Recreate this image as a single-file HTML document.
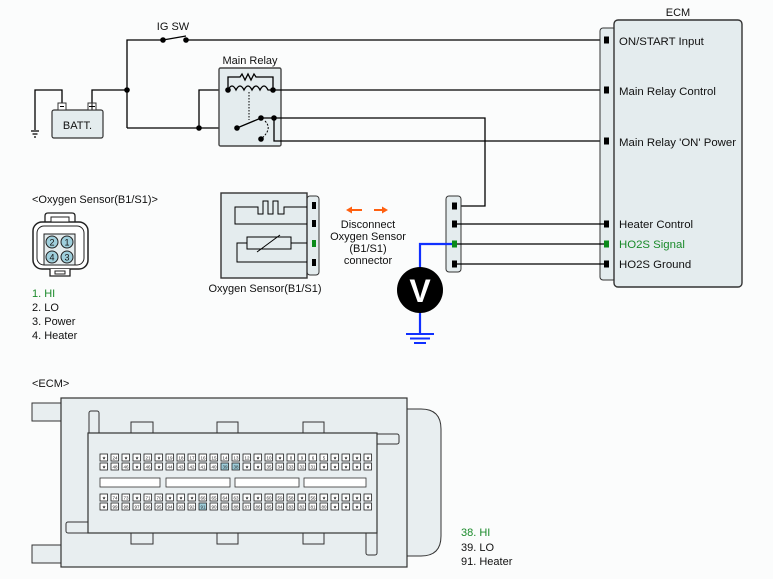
<!DOCTYPE html>
<html><head><meta charset="utf-8"><style>
html,body{margin:0;padding:0;background:#fbfcfc;}
svg{display:block;font-family:"Liberation Sans",sans-serif;}
.w{stroke:#000;stroke-width:1.3;fill:none}
.t{font-size:11px;fill:#111}
.e{font-size:11.4px;fill:#111}
.p{fill:#fff;stroke:#222;stroke-width:.8}
.ph{fill:#9fcfdc;stroke:#222;stroke-width:.8}
.n{font-size:4.5px;fill:#222;text-anchor:middle}
</style></head><body>
<svg width="773" height="579" viewBox="0 0 773 579" xmlns="http://www.w3.org/2000/svg">
<rect width="773" height="579" fill="#fbfcfc"/>
<text x="173" y="30" class="t" text-anchor="middle">IG SW</text>
<path class="w" d="M127,128 V40 H163 M163,40 L186,36 M186,40 H604"/>
<circle cx="163" cy="40" r="2.8"/><circle cx="186" cy="40" r="2.8"/>
<path class="w" d="M92,103 V90 H127 M62,103 V90 H35 V130"/>
<path class="w" d="M31,131 H39 M32.5,134 H37.5 M34,137 H36" stroke-width="1"/>
<circle cx="127" cy="90" r="2.8"/>
<path class="w" d="M127,128 H237 M199,128 V90 H228"/>
<circle cx="199" cy="128" r="2.8"/>
<rect x="52" y="110" width="51" height="28" rx="2" fill="#e4ecee" stroke="#333" stroke-width="1.2"/>
<text x="77.5" y="129" class="t" text-anchor="middle">BATT.</text>
<rect x="58" y="103" width="8" height="7" fill="#fff" stroke="#333"/>
<path d="M60,106.5H64" stroke="#000"/>
<rect x="88" y="103" width="8" height="7" fill="#fff" stroke="#333"/>
<path d="M89,106.5H95M92,103.5V109.5" stroke="#000"/>
<text x="250" y="64" class="t" text-anchor="middle">Main Relay</text>
<rect x="219" y="68" width="62" height="78" rx="1.5" fill="#e4ecee" stroke="#444" stroke-width="1.4"/>
<path class="w" d="M228,90 V77 H240 l2,-3 l3,6 l3,-6 l3,6 l3,-6 l2,3 H273 V90" stroke-width="1"/>
<path class="w" d="M228,90 q4,-8 8,0 q4,-8 8,0 q4,-8 8,0 q4,-8 8,0 q4,-8 8,0 H273" stroke-width="1"/>
<path d="M249,92 V120" stroke="#000" stroke-width="1" stroke-dasharray="1.5,1.5"/>
<path class="w" d="M237,128 L261,118 M261,118 H274"/>
<path d="M265,121 q8,8 -4,18" stroke="#000" fill="none" stroke-width="1" stroke-dasharray="2,1.5"/>
<circle cx="228" cy="90" r="2.8"/><circle cx="273" cy="90" r="2.8"/>
<circle cx="237" cy="128" r="2.8"/><circle cx="261" cy="118" r="2.8"/><circle cx="274" cy="118" r="2.8"/><circle cx="261" cy="139" r="2.8"/>
<path class="w" d="M273,90 H604 M274,118 H485 V206 H457 M274,118 V141 H604"/>
<text x="678" y="16" class="t" text-anchor="middle">ECM</text>
<rect x="600" y="28" width="16" height="252" rx="3" fill="#e4ecee" stroke="#333" stroke-width="1"/>
<rect x="614" y="20" width="128" height="267" rx="4" fill="#e4ecee" stroke="#333" stroke-width="1.4"/>
<g fill="#000"><rect x="604" y="36.5" width="5" height="7"/><rect x="604" y="86.5" width="5" height="7"/><rect x="604" y="137.5" width="5" height="7"/><rect x="604" y="220.5" width="5" height="7"/><rect x="604" y="240.5" width="5" height="7" fill="#0a8a1a"/><rect x="604" y="260.5" width="5" height="7"/></g>
<text x="619" y="45" class="e">ON/START Input</text>
<text x="619" y="95" class="e">Main Relay Control</text>
<text x="619" y="146" class="e">Main Relay 'ON' Power</text>
<text x="619" y="228" class="e">Heater Control</text>
<text x="619" y="248" class="e" style="fill:#1a8a2a">HO2S  Signal</text>
<text x="619" y="268" class="e">HO2S  Ground</text>
<rect x="446" y="196" width="15" height="76" rx="3" fill="#e4ecee" stroke="#333" stroke-width="1"/>
<path class="w" d="M457,224 H604 M457,244 H604 M457,264 H604"/>
<g><rect x="452" y="202.5" width="5" height="7"/><rect x="452" y="220.5" width="5" height="7"/><rect x="452" y="240.5" width="5" height="7" fill="#0a8a1a"/><rect x="452" y="260.5" width="5" height="7"/></g>
<path d="M452,244 H420 V268 M420,312 V334" stroke="#1030ff" stroke-width="2.2" fill="none"/>
<path d="M406,334 H434 M410,338.5 H430 M414,343 H426" stroke="#1030ff" stroke-width="2"/>
<circle cx="420" cy="290" r="23" fill="#000"/>
<text x="420" y="302" text-anchor="middle" font-size="32" font-weight="bold" fill="#fff">V</text>
<rect x="307" y="196" width="12" height="79" rx="3" fill="#e4ecee" stroke="#333" stroke-width="1"/>
<rect x="221" y="193" width="86" height="85" fill="#e4ecee" stroke="#333" stroke-width="1.4"/>
<path d="M307,207 H284 V214 H278 V201 H273 V214 H268 V201 H263 V214 H258 V207 H235 V224 H307 M307,243 H291 M247,243 H237 V262 H307 M257,252 L280,235" fill="none" stroke="#000" stroke-width="1"/>
<rect x="247" y="237" width="44" height="12" fill="none" stroke="#000" stroke-width="1"/>
<g><rect x="312" y="202" width="4" height="7"/><rect x="312" y="220" width="4" height="7"/><rect x="312" y="240" width="4" height="7" fill="#0a8a1a"/><rect x="312" y="259" width="4" height="7"/></g>
<text x="265" y="292" class="t" text-anchor="middle">Oxygen Sensor(B1/S1)</text>
<path d="M350,210 H362 M374,210 H384" stroke="#ff6010" stroke-width="2"/>
<path d="M346,210 l6,-3.5 v7z M388,210 l-6,-3.5 v7z" fill="#ff6010"/>
<g class="t" text-anchor="middle"><text x="368" y="228">Disconnect</text><text x="368" y="240">Oxygen Sensor</text><text x="368" y="252">(B1/S1)</text><text x="368" y="264">connector</text></g>
<text x="32" y="203" class="t">&lt;Oxygen Sensor(B1/S1)&gt;</text>
<!-- connector icon -->
<path d="M45,223 v-7 q0,-3 3,-3 h24 q3,0 3,3 v7" fill="#fff" stroke="#222" stroke-width="1.3"/>
<rect x="33" y="222" width="55" height="47" rx="9" fill="#fff" stroke="#222" stroke-width="1.5"/>
<rect x="37" y="226" width="47" height="39" rx="7" fill="none" stroke="#222" stroke-width="1"/>
<rect x="51" y="217" width="18" height="5" fill="#fff" stroke="#222" stroke-width="1"/>
<path d="M50,269 v7 h20 v-7" fill="#fff" stroke="#222" stroke-width="1.3"/>
<rect x="55" y="271" width="10" height="3" fill="none" stroke="#222" stroke-width="1"/>
<rect x="44" y="234" width="31" height="31" fill="#e4ecee" stroke="#222" stroke-width="1"/>
<g fill="#9fcfdc" stroke="#222" stroke-width="1"><circle cx="52" cy="242" r="6"/><circle cx="67" cy="242" r="6"/><circle cx="52" cy="257" r="6"/><circle cx="67" cy="257" r="6"/></g>
<g font-size="9" text-anchor="middle" fill="#111"><text x="52" y="245.5">2</text><text x="67" y="245.5">1</text><text x="52" y="260.5">4</text><text x="67" y="260.5">3</text></g>
<text x="32" y="297" font-size="11" fill="#1a8a2a">1. HI</text>
<text x="32" y="311" class="t">2. LO</text>
<text x="32" y="325" class="t">3. Power</text>
<text x="32" y="339" class="t">4. Heater</text>
<text x="32" y="387" class="t">&lt;ECM&gt;</text>
<path d="M407,409 h14 q20,0 20,20 v107 q0,20 -20,20 h-14" fill="#e8eef0" stroke="#333"/>
<rect x="32" y="403" width="29" height="18" fill="#e8eef0" stroke="#333"/>
<rect x="32" y="545" width="29" height="18" fill="#e8eef0" stroke="#333"/>
<rect x="61" y="398" width="346" height="169" fill="#e8eef0" stroke="#333" stroke-width="1.2"/>
<rect x="89" y="411" width="10" height="26" rx="2" fill="#e8eef0" stroke="#333"/>
<rect x="366" y="529" width="11" height="26" rx="2" fill="#e8eef0" stroke="#333"/>
<rect x="66" y="522" width="26" height="11" rx="2" fill="#e8eef0" stroke="#333"/>
<rect x="373" y="434" width="26" height="10" rx="2" fill="#e8eef0" stroke="#333"/>
<g fill="#e8eef0" stroke="#333"><rect x="131" y="422" width="22" height="12"/><rect x="217" y="422" width="21" height="12"/><rect x="303" y="422" width="21" height="12"/><rect x="131" y="533" width="22" height="11"/><rect x="217" y="533" width="21" height="11"/><rect x="303" y="533" width="21" height="11"/></g>
<rect x="88" y="433" width="289" height="100" fill="#e8eef0" stroke="#333" stroke-width="1.2"/>
<g fill="#fff" stroke="#333" stroke-width=".8"><rect x="100" y="478" width="60" height="9"/><rect x="166" y="478" width="64" height="9"/><rect x="235" y="478" width="64" height="9"/><rect x="304" y="478" width="62" height="9"/></g>
<g>
<rect class="p" x="100" y="454" width="7.5" height="7"/><rect class="p" x="111" y="454" width="7.5" height="7"/><rect class="p" x="122" y="454" width="7.5" height="7"/><rect class="p" x="133" y="454" width="7.5" height="7"/><rect class="p" x="144" y="454" width="7.5" height="7"/><rect class="p" x="155" y="454" width="7.5" height="7"/><rect class="p" x="166" y="454" width="7.5" height="7"/><rect class="p" x="177" y="454" width="7.5" height="7"/><rect class="p" x="188" y="454" width="7.5" height="7"/><rect class="p" x="199" y="454" width="7.5" height="7"/><rect class="p" x="210" y="454" width="7.5" height="7"/><rect class="p" x="221" y="454" width="7.5" height="7"/><rect class="p" x="232" y="454" width="7.5" height="7"/><rect class="p" x="243" y="454" width="7.5" height="7"/><rect class="p" x="254" y="454" width="7.5" height="7"/><rect class="p" x="265" y="454" width="7.5" height="7"/><rect class="p" x="276" y="454" width="7.5" height="7"/><rect class="p" x="287" y="454" width="7.5" height="7"/><rect class="p" x="298" y="454" width="7.5" height="7"/><rect class="p" x="309" y="454" width="7.5" height="7"/><rect class="p" x="320" y="454" width="7.5" height="7"/><rect class="p" x="331" y="454" width="7.5" height="7"/><rect class="p" x="342" y="454" width="7.5" height="7"/><rect class="p" x="353" y="454" width="7.5" height="7"/><rect class="p" x="364" y="454" width="7.5" height="7"/>
<rect class="p" x="100" y="463" width="7.5" height="7"/><rect class="p" x="111" y="463" width="7.5" height="7"/><rect class="p" x="122" y="463" width="7.5" height="7"/><rect class="p" x="133" y="463" width="7.5" height="7"/><rect class="p" x="144" y="463" width="7.5" height="7"/><rect class="p" x="155" y="463" width="7.5" height="7"/><rect class="p" x="166" y="463" width="7.5" height="7"/><rect class="p" x="177" y="463" width="7.5" height="7"/><rect class="p" x="188" y="463" width="7.5" height="7"/><rect class="p" x="199" y="463" width="7.5" height="7"/><rect class="p" x="210" y="463" width="7.5" height="7"/><rect class="ph" x="221" y="463" width="7.5" height="7"/><rect class="ph" x="232" y="463" width="7.5" height="7"/><rect class="p" x="243" y="463" width="7.5" height="7"/><rect class="p" x="254" y="463" width="7.5" height="7"/><rect class="p" x="265" y="463" width="7.5" height="7"/><rect class="p" x="276" y="463" width="7.5" height="7"/><rect class="p" x="287" y="463" width="7.5" height="7"/><rect class="p" x="298" y="463" width="7.5" height="7"/><rect class="p" x="309" y="463" width="7.5" height="7"/><rect class="p" x="320" y="463" width="7.5" height="7"/><rect class="p" x="331" y="463" width="7.5" height="7"/><rect class="p" x="342" y="463" width="7.5" height="7"/><rect class="p" x="353" y="463" width="7.5" height="7"/><rect class="p" x="364" y="463" width="7.5" height="7"/>
<rect class="p" x="100" y="494" width="7.5" height="7"/><rect class="p" x="111" y="494" width="7.5" height="7"/><rect class="p" x="122" y="494" width="7.5" height="7"/><rect class="p" x="133" y="494" width="7.5" height="7"/><rect class="p" x="144" y="494" width="7.5" height="7"/><rect class="p" x="155" y="494" width="7.5" height="7"/><rect class="p" x="166" y="494" width="7.5" height="7"/><rect class="p" x="177" y="494" width="7.5" height="7"/><rect class="p" x="188" y="494" width="7.5" height="7"/><rect class="p" x="199" y="494" width="7.5" height="7"/><rect class="p" x="210" y="494" width="7.5" height="7"/><rect class="p" x="221" y="494" width="7.5" height="7"/><rect class="p" x="232" y="494" width="7.5" height="7"/><rect class="p" x="243" y="494" width="7.5" height="7"/><rect class="p" x="254" y="494" width="7.5" height="7"/><rect class="p" x="265" y="494" width="7.5" height="7"/><rect class="p" x="276" y="494" width="7.5" height="7"/><rect class="p" x="287" y="494" width="7.5" height="7"/><rect class="p" x="298" y="494" width="7.5" height="7"/><rect class="p" x="309" y="494" width="7.5" height="7"/><rect class="p" x="320" y="494" width="7.5" height="7"/><rect class="p" x="331" y="494" width="7.5" height="7"/><rect class="p" x="342" y="494" width="7.5" height="7"/><rect class="p" x="353" y="494" width="7.5" height="7"/><rect class="p" x="364" y="494" width="7.5" height="7"/>
<rect class="p" x="100" y="503" width="7.5" height="7"/><rect class="p" x="111" y="503" width="7.5" height="7"/><rect class="p" x="122" y="503" width="7.5" height="7"/><rect class="p" x="133" y="503" width="7.5" height="7"/><rect class="p" x="144" y="503" width="7.5" height="7"/><rect class="p" x="155" y="503" width="7.5" height="7"/><rect class="p" x="166" y="503" width="7.5" height="7"/><rect class="p" x="177" y="503" width="7.5" height="7"/><rect class="p" x="188" y="503" width="7.5" height="7"/><rect class="ph" x="199" y="503" width="7.5" height="7"/><rect class="p" x="210" y="503" width="7.5" height="7"/><rect class="p" x="221" y="503" width="7.5" height="7"/><rect class="p" x="232" y="503" width="7.5" height="7"/><rect class="p" x="243" y="503" width="7.5" height="7"/><rect class="p" x="254" y="503" width="7.5" height="7"/><rect class="p" x="265" y="503" width="7.5" height="7"/><rect class="p" x="276" y="503" width="7.5" height="7"/><rect class="p" x="287" y="503" width="7.5" height="7"/><rect class="p" x="298" y="503" width="7.5" height="7"/><rect class="p" x="309" y="503" width="7.5" height="7"/><rect class="p" x="320" y="503" width="7.5" height="7"/><rect class="p" x="331" y="503" width="7.5" height="7"/><rect class="p" x="342" y="503" width="7.5" height="7"/><rect class="p" x="353" y="503" width="7.5" height="7"/><rect class="p" x="364" y="503" width="7.5" height="7"/>
</g>
<g class="n">
<text x="104" y="459.5">★</text><text x="115" y="459.5">24</text><text x="126" y="459.5">★</text><text x="137" y="459.5">★</text><text x="148" y="459.5">21</text><text x="159" y="459.5">★</text><text x="170" y="459.5">19</text><text x="181" y="459.5">18</text><text x="192" y="459.5">17</text><text x="203" y="459.5">16</text><text x="214" y="459.5">15</text><text x="225" y="459.5">14</text><text x="236" y="459.5">13</text><text x="247" y="459.5">12</text><text x="258" y="459.5">★</text><text x="269" y="459.5">10</text><text x="280" y="459.5">★</text><text x="291" y="459.5">8</text><text x="302" y="459.5">9</text><text x="313" y="459.5">6</text><text x="324" y="459.5">5</text><text x="335" y="459.5">★</text><text x="346" y="459.5">★</text><text x="357" y="459.5">★</text><text x="368" y="459.5">★</text>
<text x="104" y="468.5">★</text><text x="115" y="468.5">48</text><text x="126" y="468.5">46</text><text x="137" y="468.5">★</text><text x="148" y="468.5">46</text><text x="159" y="468.5">★</text><text x="170" y="468.5">44</text><text x="181" y="468.5">43</text><text x="192" y="468.5">42</text><text x="203" y="468.5">41</text><text x="214" y="468.5">40</text><text x="225" y="468.5">39</text><text x="236" y="468.5">38</text><text x="247" y="468.5">★</text><text x="258" y="468.5">★</text><text x="269" y="468.5">35</text><text x="280" y="468.5">34</text><text x="291" y="468.5">33</text><text x="302" y="468.5">32</text><text x="313" y="468.5">31</text><text x="324" y="468.5">★</text><text x="335" y="468.5">★</text><text x="346" y="468.5">★</text><text x="357" y="468.5">★</text><text x="368" y="468.5">★</text>
<text x="104" y="499.5">★</text><text x="115" y="499.5">74</text><text x="126" y="499.5">73</text><text x="137" y="499.5">★</text><text x="148" y="499.5">71</text><text x="159" y="499.5">70</text><text x="170" y="499.5">★</text><text x="181" y="499.5">★</text><text x="192" y="499.5">★</text><text x="203" y="499.5">66</text><text x="214" y="499.5">65</text><text x="225" y="499.5">64</text><text x="236" y="499.5">63</text><text x="247" y="499.5">★</text><text x="258" y="499.5">★</text><text x="269" y="499.5">60</text><text x="280" y="499.5">59</text><text x="291" y="499.5">58</text><text x="302" y="499.5">★</text><text x="313" y="499.5">56</text><text x="324" y="499.5">★</text><text x="335" y="499.5">★</text><text x="346" y="499.5">★</text><text x="357" y="499.5">★</text><text x="368" y="499.5">★</text>
<text x="104" y="508.5">★</text><text x="115" y="508.5">99</text><text x="126" y="508.5">98</text><text x="137" y="508.5">97</text><text x="148" y="508.5">96</text><text x="159" y="508.5">95</text><text x="170" y="508.5">94</text><text x="181" y="508.5">93</text><text x="192" y="508.5">92</text><text x="203" y="508.5">91</text><text x="214" y="508.5">90</text><text x="225" y="508.5">89</text><text x="236" y="508.5">88</text><text x="247" y="508.5">87</text><text x="258" y="508.5">86</text><text x="269" y="508.5">85</text><text x="280" y="508.5">84</text><text x="291" y="508.5">83</text><text x="302" y="508.5">82</text><text x="313" y="508.5">81</text><text x="324" y="508.5">80</text><text x="335" y="508.5">★</text><text x="346" y="508.5">★</text><text x="357" y="508.5">★</text><text x="368" y="508.5">★</text>
</g>
<text x="461" y="536" font-size="11" fill="#1a8a2a">38. HI</text>
<text x="461" y="551" class="t">39. LO</text>
<text x="461" y="565" class="t">91. Heater</text>
</svg>
</body></html>
